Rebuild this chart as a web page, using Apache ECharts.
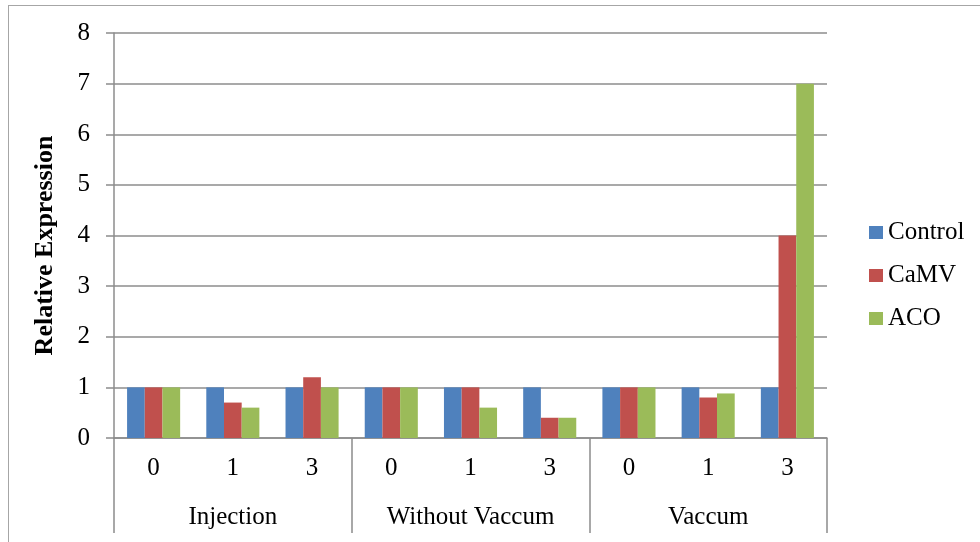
<!DOCTYPE html>
<html>
<head>
<meta charset="utf-8">
<script src="https://cdn.jsdelivr.net/npm/echarts@6/dist/echarts.min.js"></script>
<style>
  html, body { margin: 0; padding: 0; background: #ffffff; }
  #frame { position: absolute; left: 0; top: 0; width: 980px; height: 542px; }
  #border { position: absolute; left: 8px; top: 5px; width: 972px; height: 537px;
            border-top: 1.5px solid #a6a6a6; border-left: 1.5px solid #a6a6a6; box-sizing: border-box; }
  #chart { position: absolute; left: 0; top: 0; width: 980px; height: 542px; }
</style>
</head>
<body>
<div id="frame">
  <div id="border"></div>
  <div id="chart"></div>
</div>
<script>
// Time points (days) inside each treatment group
const days = ['0', '1', '3', '0', '1', '3', '0', '1', '3'];
// Treatment groups, each spanning three time points
const groups = ['Injection', 'Without Vaccum', 'Vaccum'];
const seriesNames = ['Control', 'CaMV', 'ACO'];
const controlValues = [1, 1, 1, 1, 1, 1, 1, 1, 1];
const camvValues = [1, 0.7, 1.2, 1, 1, 0.4, 1, 0.8, 4];
const acoValues = [1, 0.6, 1, 1, 0.6, 0.4, 1, 0.88, 7];
const yTicks = [0, 1, 2, 3, 4, 5, 6, 7, 8];

const colors = ['#4f81bd', '#c0504d', '#9bbb59'];
const axisGray = '#8c8c8c';
const serif = '"Liberation Serif", "DejaVu Serif", serif';

const chart = echarts.init(document.getElementById('chart'), null, { renderer: 'canvas' });

const valueSets = [controlValues, camvValues, acoValues];

chart.setOption({
  animation: false,
  color: colors,
  textStyle: { fontFamily: serif },
  grid: { left: 114, right: 153, top: 33, bottom: 104, containLabel: false },
  legend: {
    orient: 'vertical',
    left: 864,
    top: 215,
    itemWidth: 14,
    itemHeight: 13,
    itemGap: 18,
    icon: 'rect',
    textStyle: { fontFamily: serif, fontSize: 25, color: '#000' },
    data: seriesNames
  },
  xAxis: [
    {
      type: 'category',
      data: days,
      position: 'bottom',
      axisLine: { show: true, lineStyle: { color: axisGray, width: 1.5 } },
      axisTick: { show: false },
      axisLabel: { color: '#000', fontSize: 25, fontFamily: serif, margin: 18 },
      splitLine: { show: false }
    },
    {
      type: 'category',
      data: groups,
      position: 'bottom',
      axisLine: { show: false },
      axisTick: { show: true, length: 95, inside: false, lineStyle: { color: axisGray, width: 1.5 } },
      axisLabel: { color: '#000', fontSize: 25, fontFamily: serif, margin: 67 },
      splitLine: { show: false }
    }
  ],
  yAxis: {
    type: 'value',
    min: yTicks[0],
    max: yTicks[yTicks.length - 1],
    interval: 1,
    name: 'Relative Expression',
    nameLocation: 'middle',
    nameGap: 56,
    nameRotate: 90,
    nameTextStyle: { fontFamily: serif, fontSize: 26, fontWeight: 'bold', color: '#000', padding: [0, 20, 0, 0] },
    axisLine: { show: true, lineStyle: { color: axisGray, width: 1.5 } },
    axisTick: { show: true, length: 8, lineStyle: { color: axisGray, width: 1.5 } },
    axisLabel: { color: '#000', fontSize: 25, fontFamily: serif, margin: 24 },
    splitLine: { show: true, lineStyle: { color: axisGray, width: 1.5 } }
  },
  series: seriesNames.map((name, i) => ({
    name: name,
    type: 'bar',
    xAxisIndex: 0,
    data: valueSets[i],
    barGap: '0%',
    barCategoryGap: '33%',
    itemStyle: { color: colors[i] }
  }))
});
</script>
</body>
</html>
